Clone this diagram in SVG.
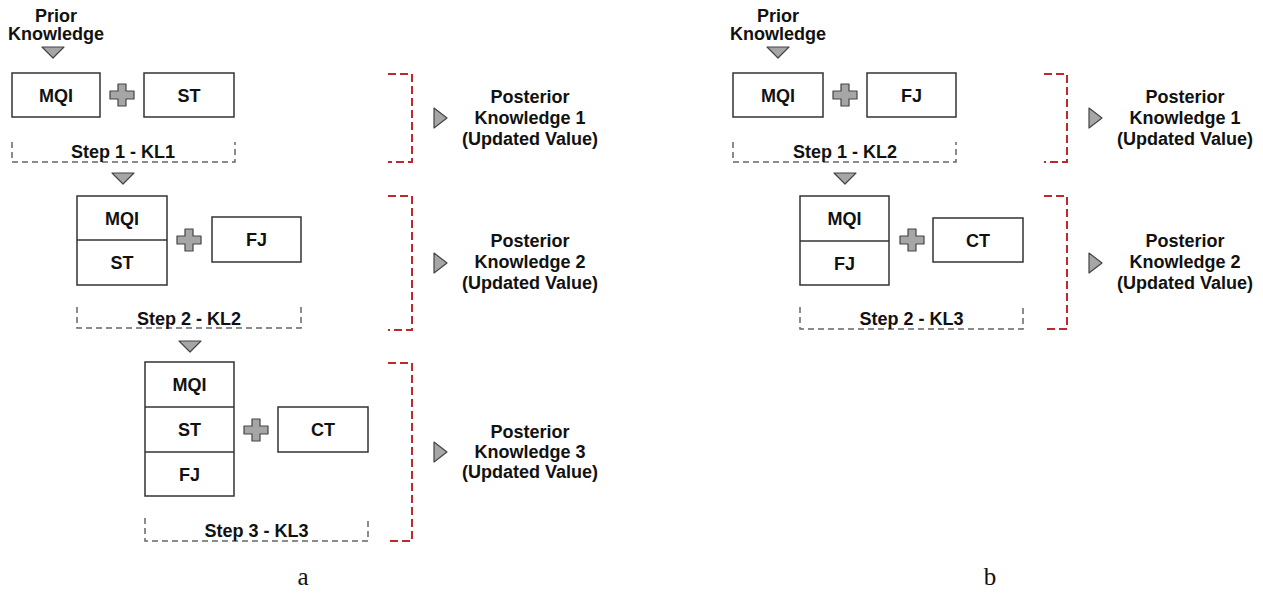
<svg xmlns="http://www.w3.org/2000/svg" width="1263" height="594" viewBox="0 0 1263 594">
<style>
  .t { font-family: "Liberation Sans", Arial, sans-serif; font-weight: bold; font-size: 18px; fill: #111; text-anchor: middle; }
  .cap { font-family: "Liberation Serif", "Times New Roman", serif; font-size: 25px; fill: #111; text-anchor: middle; }
  .box { fill: #fff; stroke: #333; stroke-width: 1.5; }
  .frame { fill: none; stroke: #666; stroke-width: 1.5; stroke-dasharray: 6 4; }
  .bracket { fill: none; stroke: #c0282d; stroke-width: 2; stroke-dasharray: 8 4; }
  .shape { fill: #a6a6a6; stroke: #444; stroke-width: 1.2; stroke-linejoin: round; }
</style>
<defs>
  <path id="plus" class="shape" d="M-4,-11 h8 v7 h8 v8 h-8 v7 h-8 v-7 h-8 v-8 h8 z"/>
  <path id="tdown" class="shape" d="M-11,-5 L11,-5 L0,6 z"/>
  <path id="tright" class="shape" d="M-6,-10 L7,0 L-6,10 z"/>
</defs>
<rect width="1263" height="594" fill="#fff"/>

<g id="connectors">
  <use href="#tdown" x="53" y="52"/>
  <use href="#tdown" x="123" y="178"/>
  <use href="#tdown" x="190" y="346"/>
  <use href="#tdown" x="778" y="52"/>
  <use href="#tdown" x="845" y="178"/>
  <use href="#tright" x="440" y="118"/>
  <use href="#tright" x="440" y="263"/>
  <use href="#tright" x="440" y="452"/>
  <use href="#tright" x="1095" y="118"/>
  <use href="#tright" x="1095" y="263"/>
  <path class="bracket" d="M388,74 H412 V162 H388"/>
  <path class="bracket" d="M388,196 H412 V330 H388"/>
  <path class="bracket" d="M388,363 H412 V541 H388"/>
  <path class="bracket" d="M1044,74 H1067 V162 H1044"/>
  <path class="bracket" d="M1044,196 H1067 V329 H1044"/>
</g>

<!-- Diagram a -->
<g id="a-prior">
  <text class="t" x="56" y="22">Prior</text>
  <text class="t" x="56" y="40">Knowledge</text>
</g>
<g id="a-step1">
  <rect class="box" x="12" y="73" width="88" height="44"/>
  <text class="t" x="56" y="102">MQI</text>
  <use href="#plus" x="122" y="95"/>
  <rect class="box" x="144" y="73" width="90" height="44"/>
  <text class="t" x="189" y="102">ST</text>
  <path class="frame" d="M12,142 V162 H235 V142"/>
  <text class="t" x="123" y="158">Step 1 - KL1</text>
</g>
<g id="a-step2">
  <rect class="box" x="77" y="196" width="90" height="89"/>
  <line x1="77" y1="240" x2="167" y2="240" stroke="#333" stroke-width="1.5"/>
  <text class="t" x="122" y="224.5">MQI</text>
  <text class="t" x="122" y="269">ST</text>
  <use href="#plus" x="189" y="240"/>
  <rect class="box" x="212" y="217" width="89" height="45"/>
  <text class="t" x="256.5" y="246">FJ</text>
  <path class="frame" d="M77,307 V328 H301 V307"/>
  <text class="t" x="189" y="325">Step 2 - KL2</text>
</g>
<g id="a-step3">
  <rect class="box" x="145" y="362" width="89" height="134"/>
  <line x1="145" y1="407" x2="234" y2="407" stroke="#333" stroke-width="1.5"/>
  <line x1="145" y1="452" x2="234" y2="452" stroke="#333" stroke-width="1.5"/>
  <text class="t" x="189.5" y="391">MQI</text>
  <text class="t" x="189.5" y="436">ST</text>
  <text class="t" x="189.5" y="480.5">FJ</text>
  <use href="#plus" x="256" y="430"/>
  <rect class="box" x="278" y="407" width="90" height="45"/>
  <text class="t" x="323" y="436">CT</text>
  <path class="frame" d="M145,518 V541 H368 V518"/>
  <text class="t" x="256.5" y="537">Step 3 - KL3</text>
</g>
<g id="a-post1">
  <text class="t" x="530" y="103">Posterior</text>
  <text class="t" x="530" y="124">Knowledge 1</text>
  <text class="t" x="530" y="145">(Updated Value)</text>
</g>
<g id="a-post2">
  <text class="t" x="530" y="247">Posterior</text>
  <text class="t" x="530" y="268">Knowledge 2</text>
  <text class="t" x="530" y="289">(Updated Value)</text>
</g>
<g id="a-post3">
  <text class="t" x="530" y="438">Posterior</text>
  <text class="t" x="530" y="458">Knowledge 3</text>
  <text class="t" x="530" y="478">(Updated Value)</text>
</g>
<text class="cap" x="303" y="585">a</text>

<!-- Diagram b -->
<g id="b-prior">
  <text class="t" x="778" y="22">Prior</text>
  <text class="t" x="778" y="40">Knowledge</text>
</g>
<g id="b-step1">
  <rect class="box" x="733" y="73" width="90" height="44"/>
  <text class="t" x="778" y="102">MQI</text>
  <use href="#plus" x="845" y="95"/>
  <rect class="box" x="867" y="73" width="89" height="44"/>
  <text class="t" x="911.5" y="102">FJ</text>
  <path class="frame" d="M733,142 V162 H956 V142"/>
  <text class="t" x="845" y="158">Step 1 - KL2</text>
</g>
<g id="b-step2">
  <rect class="box" x="800" y="196" width="89" height="89"/>
  <line x1="800" y1="241" x2="889" y2="241" stroke="#333" stroke-width="1.5"/>
  <text class="t" x="844.5" y="225">MQI</text>
  <text class="t" x="844.5" y="269.5">FJ</text>
  <use href="#plus" x="912" y="240"/>
  <rect class="box" x="933" y="218" width="90" height="44"/>
  <text class="t" x="978" y="246.5">CT</text>
  <path class="frame" d="M800,307 V329 H1023 V307"/>
  <text class="t" x="911.5" y="325">Step 2 - KL3</text>
</g>
<g id="b-post1">
  <text class="t" x="1185" y="103">Posterior</text>
  <text class="t" x="1185" y="124">Knowledge 1</text>
  <text class="t" x="1185" y="145">(Updated Value)</text>
</g>
<g id="b-post2">
  <text class="t" x="1185" y="247">Posterior</text>
  <text class="t" x="1185" y="268">Knowledge 2</text>
  <text class="t" x="1185" y="289">(Updated Value)</text>
</g>
<text class="cap" x="990" y="585">b</text>
</svg>
